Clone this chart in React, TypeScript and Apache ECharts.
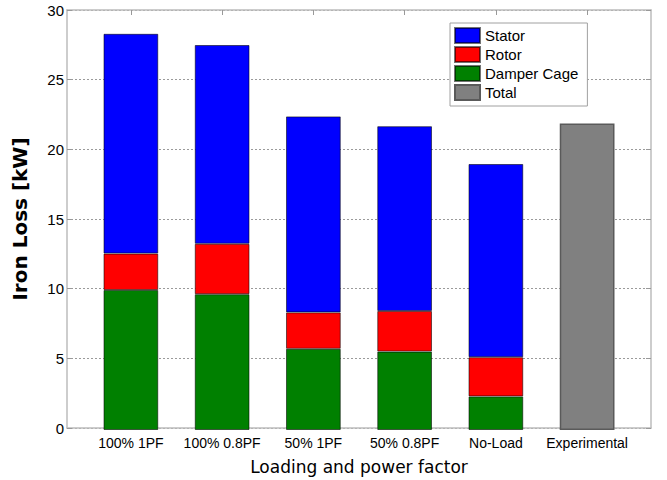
import React, { useEffect, useRef } from "react";
import * as echarts from "echarts";

// Operating points along the x axis
const categories = ["100% 1PF", "100% 0.8PF", "50% 1PF", "50% 0.8PF", "No-Load", "Experimental"];

// Iron loss components in kW (stacked bottom-up: damper, rotor, stator)
const damperCage = [10.0, 9.7, 5.8, 5.6, 2.4, null];
const rotor = [2.6, 3.6, 2.6, 2.9, 2.8, null];
const stator = [15.7, 14.2, 14.0, 13.2, 13.8, null];
// Measured total
const total = [null, null, null, null, null, 21.9];

const yTicks = [0, 5, 10, 15, 20, 25, 30];

// Frame spans x = 0.3 .. 6.7 with bars centred on 1..6
const X_MIN = 0.3;
const X_MAX = 6.7;
const positions = categories.map((_, i) => i + 1);
const toData = (vals: (number | null)[]) => vals.map((v) => (v === null ? "-" : v));

const FRAME = "#bcbcbc";
const sans = "'Liberation Sans', Arial, sans-serif";

const PLOT_LEFT = 67;
const PLOT_TOP = 10;
const PLOT_W = 584;
const PLOT_H = 420;

export default function App() {
  const ref = useRef<HTMLDivElement>(null);

  useEffect(() => {
    if (!ref.current) return;
    const chart = echarts.init(ref.current, null, { renderer: "svg" });

    // inner grid holds exactly the six category bands
    const unit = PLOT_W / (X_MAX - X_MIN);
    const innerLeft = PLOT_LEFT + (positions[0] - 0.5 - X_MIN) * unit;
    const innerWidth = categories.length * unit;

    const frameX = {
      type: "value" as const,
      gridIndex: 0,
      min: X_MIN,
      max: X_MAX,
      splitLine: { show: false },
      axisLine: { show: true, onZero: false, lineStyle: { color: FRAME, width: 1.5 } },
      axisTick: { show: true, inside: true, length: 5, customValues: positions, lineStyle: { color: "#999" } },
      axisLabel: { show: false },
    };
    const frameY = {
      type: "value" as const,
      gridIndex: 0,
      min: yTicks[0],
      max: yTicks[yTicks.length - 1],
      interval: 5,
      axisLine: { show: true, lineStyle: { color: FRAME, width: 1.5 } },
      axisTick: { show: true, inside: true, length: 5, lineStyle: { color: "#999" } },
    };

    const barBorder = { borderColor: "rgba(0,0,0,0.55)", borderWidth: 1 };
    const barCommon = {
      type: "bar" as const,
      stack: "loss",
      barWidth: "60%",
      xAxisIndex: 2,
      yAxisIndex: 2,
    };

    chart.setOption({
      animation: false,
      backgroundColor: "#fff",
      grid: [
        { left: PLOT_LEFT, top: PLOT_TOP, width: PLOT_W, height: PLOT_H },
        { left: innerLeft, top: PLOT_TOP, width: innerWidth, height: PLOT_H },
      ],
      legend: {
        orient: "vertical",
        left: 450,
        top: 23,
        icon: "rect",
        itemWidth: 25,
        itemHeight: 15,
        itemGap: 2,
        padding: [4, 9, 5, 4],
        backgroundColor: "#fff",
        borderColor: "#a0a0a0",
        borderWidth: 1,
        data: ["Stator", "Rotor", "Damper Cage", "Total"],
        textStyle: { fontFamily: sans, fontSize: 15, color: "#000" },
      },
      xAxis: [
        {
          ...frameX,
          position: "bottom",
          name: "Loading and power factor",
          nameLocation: "middle",
          nameGap: 30,
          nameTextStyle: { fontFamily: "'DejaVu Sans', sans-serif", fontSize: 17, color: "#000" },
        },
        { ...frameX, position: "top" },
        {
          type: "category",
          gridIndex: 1,
          data: categories,
          position: "bottom",
          axisLine: { show: false },
          axisTick: { show: false },
          axisLabel: { margin: 6, fontFamily: sans, fontSize: 14, color: "#000", interval: 0 },
        },
      ],
      yAxis: [
        {
          ...frameY,
          position: "left",
          name: "Iron Loss [kW]",
          nameLocation: "middle",
          nameGap: 37,
          nameTextStyle: { fontFamily: "'DejaVu Sans', sans-serif", fontSize: 20, fontWeight: "bold", color: "#000" },
          axisLabel: { fontFamily: sans, fontSize: 15, color: "#000", margin: 3 },
          splitLine: { show: true, lineStyle: { color: "#9a9a9a", type: [2, 2], width: 1 } },
        },
        {
          ...frameY,
          position: "right",
          axisLabel: { show: false },
          splitLine: { show: false },
        },
        {
          type: "value",
          gridIndex: 1,
          min: yTicks[0],
          max: yTicks[yTicks.length - 1],
          show: false,
        },
      ],
      series: [
        { ...barCommon, name: "Damper Cage", data: toData(damperCage), itemStyle: { color: "#008000", ...barBorder } },
        { ...barCommon, name: "Rotor", data: toData(rotor), itemStyle: { color: "#ff0000", ...barBorder } },
        { ...barCommon, name: "Stator", data: toData(stator), itemStyle: { color: "#0000ff", ...barBorder } },
        {
          ...barCommon,
          name: "Total",
          data: toData(total),
          itemStyle: { color: "#808080", borderColor: "#5a5a5a", borderWidth: 1.5 },
        },
      ],
    });

    return () => chart.dispose();
  }, []);

  return <div ref={ref} style={{ position: "fixed", left: 0, top: 0, width: 667, height: 480 }} />;
}
